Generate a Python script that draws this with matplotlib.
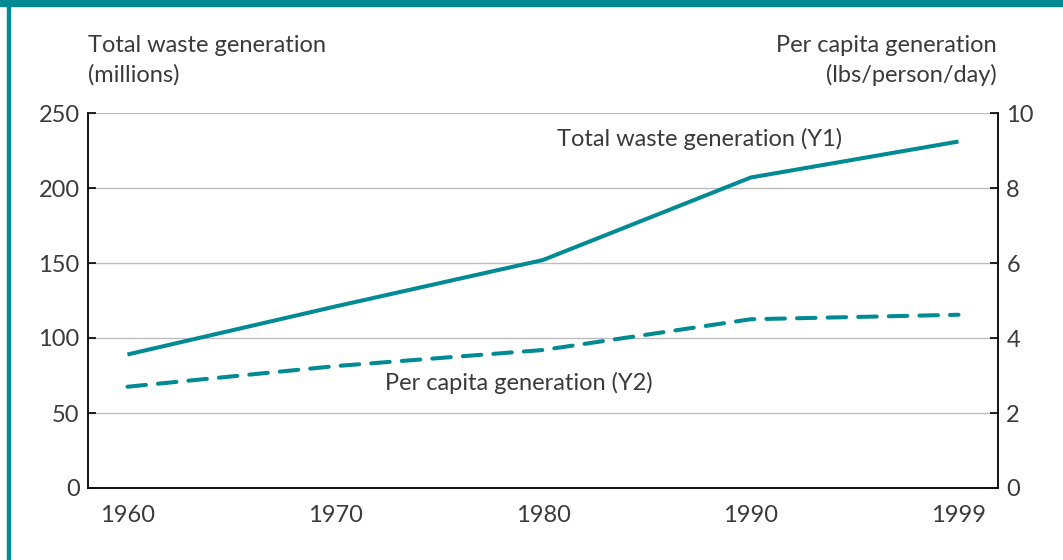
import matplotlib
matplotlib.use("Agg")
import matplotlib.pyplot as plt
from matplotlib.patches import Rectangle

# data
years = ["1960", "1970", "1980", "1990", "1999"]
total_waste = [89, 121, 152, 207, 231]          # millions (Y1)
per_capita = [2.7, 3.25, 3.68, 4.5, 4.62]       # lbs/person/day (Y2)
y1_ticks = [0, 50, 100, 150, 200, 250]
y2_ticks = [0, 2, 4, 6, 8, 10]

TEAL = "#008a93"
TEXT = "#3a3a3a"
FS = 17

plt.rcParams["font.family"] = ["Lato", "DejaVu Sans"]
plt.rcParams["font.weight"] = "normal"


def main():
    fig = plt.figure(figsize=(10.63, 5.6), dpi=100)
    W, H = 1063, 560

    # teal frame on top and left
    fig.patches.append(Rectangle((0, 1 - 6 / H), 1, 6 / H, transform=fig.transFigure,
                                 color=TEAL, zorder=0))
    fig.patches.append(Rectangle((7 / W, 0), 3 / W, 1, transform=fig.transFigure,
                                 color=TEAL, zorder=0))

    ax = fig.add_axes([88 / W, (560 - 488) / H, (998 - 88) / W, (488 - 113) / H])
    ax2 = ax.twinx()

    x = list(range(len(years)))
    ax.plot(x, total_waste, color=TEAL, lw=2.9, solid_capstyle="butt", zorder=3)
    ax2.plot(x, per_capita, color=TEAL, lw=2.9, dashes=(4.6, 3.0),
             dash_capstyle="round", zorder=3)

    ax.set_xlim(-0.19, 4.19)
    ax.set_ylim(0, 250)
    ax2.set_ylim(0, 10)
    ax.set_xticks(x)
    ax.set_xticklabels(years)
    ax.set_yticks(y1_ticks)
    ax2.set_yticks(y2_ticks)

    for y in y1_ticks[1:]:
        ax.axhline(y, color="#bdbdbd", lw=1, zorder=1)

    for a in (ax, ax2):
        for s in a.spines.values():
            s.set_color("#111111")
            s.set_linewidth(1.2)
        a.spines["top"].set_visible(False)
    ax.tick_params(axis="x", length=0, pad=12, labelsize=FS, labelcolor=TEXT)
    ax.tick_params(axis="y", direction="in", length=6, width=1.2, pad=6,
                   labelsize=FS, labelcolor=TEXT)
    ax2.tick_params(axis="y", direction="in", length=6, width=1.2, pad=6,
                    labelsize=FS, labelcolor=TEXT)

    # axis titles
    fig.text(88 / W, 1 - 35 / H, "Total waste generation\n(millions)", ha="left", va="top",
             fontsize=FS, color=TEXT, linespacing=1.45)
    fig.text(997 / W, 1 - 35 / H, "Per capita generation\n(lbs/person/day)", ha="right",
             va="top", fontsize=FS, color=TEXT, linespacing=1.45, multialignment="right")

    # series labels
    fig.text(557 / W, 1 - 139 / H, "Total waste generation (Y1)", ha="left", va="center",
             fontsize=FS, color=TEXT)
    fig.text(385 / W, 1 - 383 / H, "Per capita generation (Y2)", ha="left", va="center",
             fontsize=FS, color=TEXT)

    fig.savefig("out.png", dpi=100)


if __name__ == "__main__":
    main()
